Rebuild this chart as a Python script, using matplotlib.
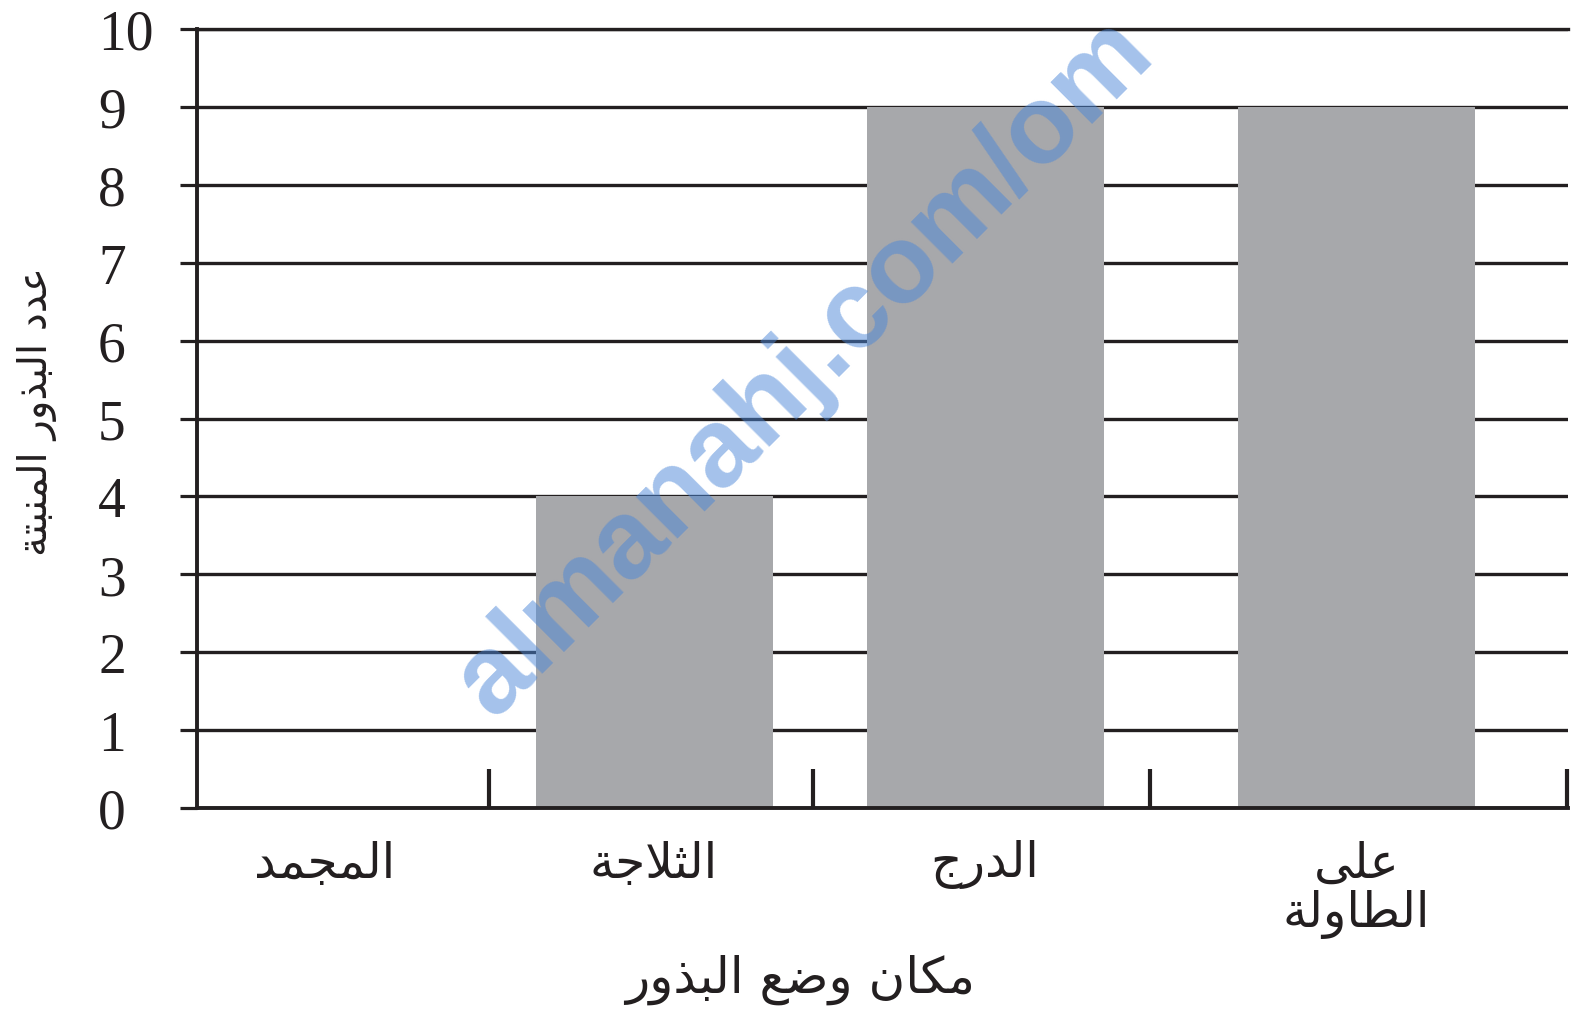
import matplotlib
matplotlib.use("Agg")
import matplotlib.pyplot as plt

# data
categories = ["المجمد", "الثلاجة", "الدرج", "على\nالطاولة"]
counts = [0, 4, 9, 9]
y_ticks = list(range(0, 11))
x_title = "مكان وضع البذور"
y_title = "عدد البذور المنبتة"
watermark = "almanahj.com/om"

# layout (x axis runs in 100-px units of the drawing)
centers = [1.28, 4.57, 7.88, 11.595]
bounds = [2.92, 6.16, 9.53, 13.70]
bar_w = 2.37
ink = "#231f20"
bar_gray = "#a7a8ab"

# minimal Arabic shaping: isolated, final, initial, medial
FORMS = {
    "ا": (0xFE8D, 0xFE8E), "ب": (0xFE8F, 0xFE90, 0xFE91, 0xFE92),
    "ت": (0xFE95, 0xFE96, 0xFE97, 0xFE98), "ث": (0xFE99, 0xFE9A, 0xFE9B, 0xFE9C),
    "ج": (0xFE9D, 0xFE9E, 0xFE9F, 0xFEA0), "د": (0xFEA9, 0xFEAA),
    "ذ": (0xFEAB, 0xFEAC), "ر": (0xFEAD, 0xFEAE),
    "ض": (0xFEBD, 0xFEBE, 0xFEBF, 0xFEC0), "ط": (0xFEC1, 0xFEC2, 0xFEC3, 0xFEC4),
    "ع": (0xFEC9, 0xFECA, 0xFECB, 0xFECC), "ك": (0xFED9, 0xFEDA, 0xFEDB, 0xFEDC),
    "ل": (0xFEDD, 0xFEDE, 0xFEDF, 0xFEE0), "م": (0xFEE1, 0xFEE2, 0xFEE3, 0xFEE4),
    "ن": (0xFEE5, 0xFEE6, 0xFEE7, 0xFEE8), "و": (0xFEED, 0xFEEE),
    "ى": (0xFEEF, 0xFEF0), "ة": (0xFE93, 0xFE94),
}


def shape_line(text):
    out = []
    chars = list(text)
    i = 0
    while i < len(chars):
        c = chars[i]
        if c not in FORMS:
            out.append(c)
            i += 1
            continue
        prev = chars[i - 1] if i > 0 else None
        joins_prev = prev in FORMS and len(FORMS[prev]) == 4
        nxt = chars[i + 1] if i + 1 < len(chars) else None
        if c == "ل" and nxt == "ا":
            out.append(chr(0xFEFC if joins_prev else 0xFEFB))
            i += 2
            continue
        joins_next = len(FORMS[c]) == 4 and nxt in FORMS
        f = FORMS[c]
        if joins_prev and joins_next:
            g = f[3]
        elif joins_prev:
            g = f[1]
        elif joins_next:
            g = f[2]
        else:
            g = f[0]
        out.append(chr(g))
        i += 1
    return "".join(reversed(out))


def shape(text):
    return "\n".join(shape_line(t) for t in text.split("\n"))


fig = plt.figure(figsize=(15.71, 10.20), dpi=100)
ax = fig.add_axes([197 / 1571, 1 - 809 / 1020, (1568 - 197) / 1571, (809 - 30) / 1020])

ax.bar(centers, counts, width=bar_w, color=bar_gray, zorder=2)

ax.set_xlim(0, 13.71)
ax.set_ylim(0, 10)
ax.set_yticks(y_ticks)
ax.set_yticklabels([str(v) for v in y_ticks], family="Liberation Serif", fontsize=40)
for lbl in ax.get_yticklabels():
    lbl.set_horizontalalignment("left")
ax.tick_params(axis="y", length=12.2, width=2.3, color=ink, pad=59, labelcolor=ink)
ax.yaxis.grid(True, color=ink, linewidth=2.4, zorder=1)
ax.set_axisbelow(True)

ax.set_xticks(centers)
ax.set_xticklabels([shape(c) for c in categories], family="DejaVu Sans",
                   fontsize=35, color=ink, linespacing=1.05)
ax.set_xticks(bounds, minor=True)
ax.tick_params(axis="x", which="major", length=0, pad=22)
ax.tick_params(axis="x", which="minor", direction="in", length=28, width=3, color=ink)

for side in ["left", "bottom", "top"]:
    ax.spines[side].set_color(ink)
    ax.spines[side].set_linewidth(2.8)
ax.spines["top"].set_linewidth(2.4)
ax.spines["right"].set_visible(False)

fig.text(800 / 1571, 1 - 980 / 1020, shape(x_title), family="DejaVu Sans",
         fontsize=36, color=ink, ha="center", va="center")
fig.text(37 / 1571, 1 - 412 / 1020, shape(y_title), family="DejaVu Sans",
         fontsize=29, color=ink, ha="center", va="center", rotation=90)

fig.text(805 / 1571, 1 - 368 / 1020, watermark, family="Liberation Sans",
         fontweight="bold", fontsize=80, color="#4a86d8", alpha=0.5,
         rotation=45, ha="center", va="center", zorder=5)

fig.savefig("out.png", dpi=100)
